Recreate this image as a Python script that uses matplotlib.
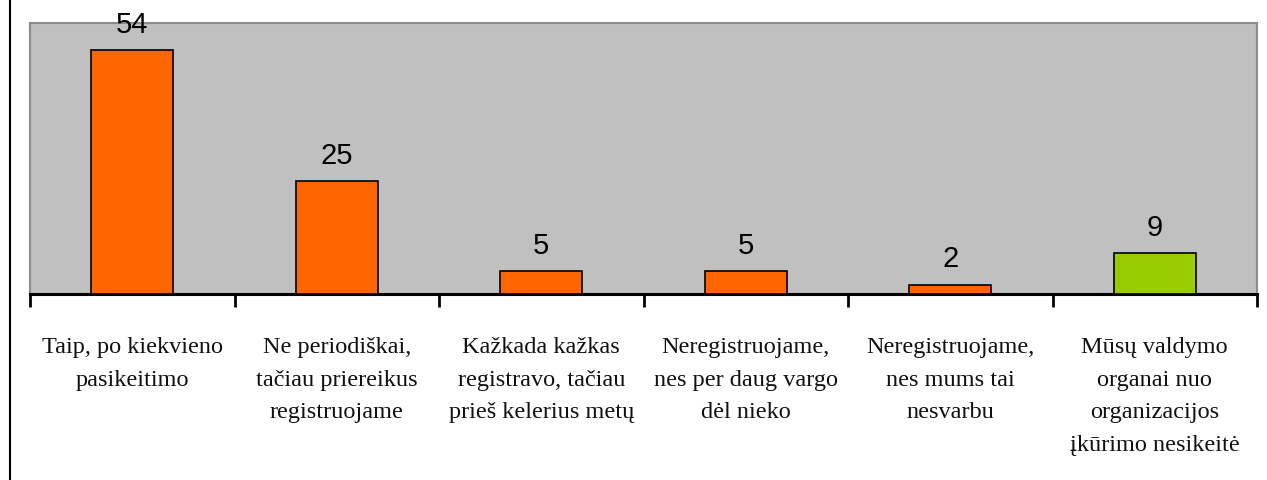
import numpy as np
import matplotlib
matplotlib.use('Agg')
import matplotlib.pyplot as plt
from matplotlib.lines import Line2D

categories = ['Taip, po kiekvieno\npasikeitimo',
              'Ne periodiškai,\ntačiau priereikus\nregistruojame',
              'Kažkada kažkas\nregistravo, tačiau\nprieš kelerius metų',
              'Neregistruojame,\nnes per daug vargo\ndėl nieko',
              'Neregistruojame,\nnes mums tai\nnesvarbu',
              'Mūsų valdymo\norganai nuo\norganizacijos\nįkūrimo nesikeitė']
values = [54, 25, 5, 5, 2, 9]
colors = ['#FF6600', '#FF6600', '#FF6600', '#FF6600', '#FF6600', '#99CC00']

fig = plt.figure(figsize=(12.67, 4.81), dpi=100)
ax = fig.add_axes([30 / 1267, 1 - 295 / 481, 1227 / 1267, 271 / 481])
ax.set_facecolor('#C0C0C0')

x = np.arange(len(values))
bars = ax.bar(x, values, width=0.4, color=colors, edgecolor='black', linewidth=1.2, zorder=3)

for xi, v in zip(x, values):
    ax.annotate(str(v), (xi, v), xytext=(0, 9), textcoords='offset points',
                ha='center', va='bottom', fontsize=21, family='Liberation Sans',
                annotation_clip=False)

# category labels under the axis
for xi, cat in zip(x, categories):
    ax.annotate(cat, (xi, 0), xycoords=('data', 'axes fraction'),
                xytext=(0, -30), textcoords='offset points',
                ha='center', va='top', fontsize=17.5, family='Liberation Serif',
                linespacing=1.74, color='#111111', annotation_clip=False)

ax.set_xlim(-0.5, len(values) - 0.5)
ax.set_ylim(0, 60)
ax.set_yticks([])
ax.set_xticks(np.arange(-0.5, len(values)))
ax.set_xticklabels([])
ax.tick_params(axis='x', length=9, width=2, color='black', direction='out')

for s in ['top', 'right', 'left']:
    ax.spines[s].set_color('#8C8C8C')
    ax.spines[s].set_linewidth(1.5)
ax.spines['bottom'].set_color('black')
ax.spines['bottom'].set_linewidth(2.2)

fig.add_artist(Line2D([10 / 1267, 10 / 1267], [0, 1], color='black', linewidth=1.5,
                      transform=fig.transFigure))

fig.savefig('out.png', dpi=100)
